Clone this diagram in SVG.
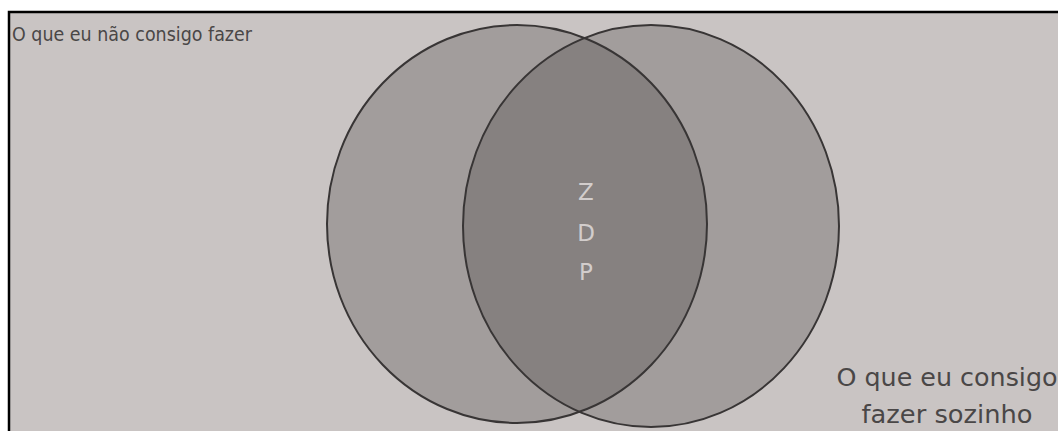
<svg xmlns="http://www.w3.org/2000/svg" width="1058" height="431" viewBox="0 0 1058 431">
  <style>
    .ring { fill: none; stroke: #383535; stroke-width: 2; }
    .fill { fill: #a29d9c; }
    .lens { fill: #868180; }
    .lbl { font-family: "DejaVu Sans", "Liberation Sans", sans-serif; fill: #4a4747; }
    .zdp { font-family: "DejaVu Sans", "Liberation Sans", sans-serif; font-size: 23px; fill: #d2cdcc; text-anchor: middle; }
  </style>
  <defs>
    <clipPath id="clipLeft">
      <ellipse cx="517" cy="224" rx="190" ry="199"/>
    </clipPath>
  </defs>
  <rect x="0" y="0" width="1058" height="431" fill="#ffffff"/>
  <rect x="9" y="12" width="1060" height="430" fill="#c9c4c3" stroke="#000000" stroke-width="2.5"/>

  <g id="circle-left">
    <ellipse class="fill" cx="517" cy="224" rx="190" ry="199"/>
  </g>
  <g id="circle-right">
    <ellipse class="fill" cx="651" cy="226" rx="188" ry="201"/>
  </g>
  <g id="zdp">
    <ellipse class="lens" cx="651" cy="226" rx="188" ry="201" clip-path="url(#clipLeft)"/>
    <text class="zdp" x="586" y="200">Z</text>
    <text class="zdp" x="586" y="241">D</text>
    <text class="zdp" x="586" y="280">P</text>
  </g>
  <g id="outlines">
    <ellipse class="ring" cx="517" cy="224" rx="190" ry="199"/>
    <ellipse class="ring" cx="651" cy="226" rx="188" ry="201"/>
  </g>
  <g id="label-left">
    <text class="lbl" x="12" y="41" font-size="19.5" textLength="240" lengthAdjust="spacingAndGlyphs">O que eu não consigo fazer</text>
  </g>
  <g id="label-right">
    <text class="lbl" x="947" y="386" font-size="25" text-anchor="middle" textLength="221" lengthAdjust="spacingAndGlyphs">O que eu consigo</text>
    <text class="lbl" x="947" y="423" font-size="25" text-anchor="middle" textLength="171" lengthAdjust="spacingAndGlyphs">fazer sozinho</text>
  </g>
  <g id="connectors"/>
</svg>
